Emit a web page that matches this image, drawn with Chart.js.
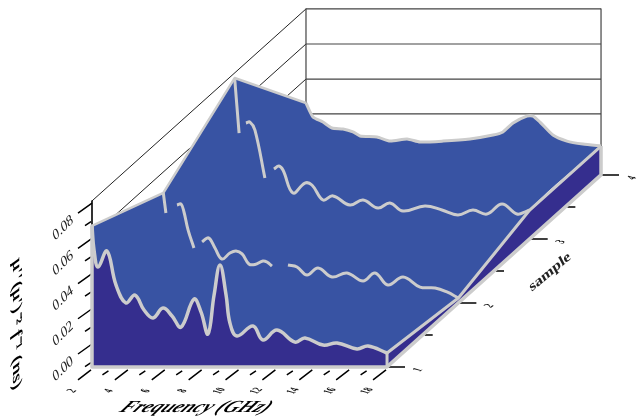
<!DOCTYPE html>
<html>
<head>
<meta charset="utf-8">
<title>Frequency surface</title>
<script src="https://cdn.jsdelivr.net/npm/chart.js@4/dist/chart.umd.min.js"></script>
<style>
  html, body { margin: 0; padding: 0; background: #fff; }
  canvas { display: block; }
</style>
</head>
<body>
<canvas id="chart" width="638" height="416"></canvas>
<script>
// data, null = the curve is hidden there
const freq1 = [2, 2.11, 2.33, 2.81, 3.30, 3.84, 4.33, 4.82, 5.31, 5.85, 6.34, 6.83, 7.53, 7.91, 8.29, 8.62, 8.94, 9.27, 9.48, 9.86, 10.73, 11.27, 12.03, 13.01, 13.55, 14.53, 15.29, 16.37, 16.97, 18];
const vals1 = [.0670, .0533, .0437, .0528, .0335, .0233, .0278, .0193, .0148, .0204, .0159, .0096, .0255, .0182, .0057, .0278, .0448, .0278, .0119, .0045, .0102, .0023, .0079, .0011, .0034, -.0006, .0006, -.0028, -.0011, -.0051];

const freq2 = [2, 2.14, 2.4, 2.74, 2.96, 3.12, 3.34, 3.66, 3.9, 4.10, 4.37, 4.53, 4.80, 5.18, 5.61, 5.94, 6.27, 6.64, 6.97, 7.40, 7.62, 7.89, 8.3, 8.76, 9.25, 9.79, 10.39, 11.15, 11.96, 12.83, 13.48, 14.18, 15.0, 15.92, 16.74, 17.38, 18];
const vals2 = [.0494, .0380, null, .0426, .0431, .0386, .0284, .0182, null, .0216, .0238, .0233, .0182, .0119, .0153, .0165, .0148, .0091, .0088, .0108, .0102, .0079, null, .0085, .0074, .0028, .0068, .0017, .0040, -.0006, .0040, -.0028, .0017, -.0040, -.0045, -.0068, -.0102];

const freq3 = [2, 2.24, 2.4, 2.61, 2.83, 3.10, 3.64, 3.9, 4.13, 4.40, 4.62, 5.16, 5.81, 6.19, 6.79, 7.33, 8.25, 8.96, 9.77, 10.42, 11.13, 12.32, 13.24, 14.11, 14.92, 15.68, 16.50, 17.31, 17.85, 18];
const vals3 = [.0783, .0471, null, .0528, .0533, .0488, .0216, null, .0267, .0284, .0261, .0131, .0187, .0176, .0091, .0114, .0062, .0091, .0045, .0074, .0028, .0057, .0034, .0006, .0034, .0011, .0068, .0011, .0028, .0034];

const freq4 = [2, 2.38, 2.92, 3.41, 4.01, 4.55, 4.93, 5.85, 6.56, 7.48, 8.18, 9.43, 10.89, 12.14, 12.68, 13.23, 13.98, 14.31, 14.69, 15.39, 16.15, 17.02, 18];
const vals4 = [.0278, .0199, .0170, .0136, .0131, .0114, .0091, .0085, .0062, .0074, .0057, .0062, .0074, .0096, .0114, .0165, .0204, .0204, .0170, .0096, .0062, .0045, .0034];

const freqTicks = [2, 4, 6, 8, 10, 12, 14, 16, 18];
const freqMinor = [3, 5, 7, 9, 11, 13, 15, 17];
const sampleTicks = [1, 2, 3, 4];
const sampleMinor = [1.5, 2.5, 3.5];
const valueTicks = [0, .02, .04, .06, .08];
const valueMinor = [-.01, .01, .03, .05, .07];
const wallLevels = [.0812, .0613, .0414, .0216];

const xTitle = 'Frequency (GHz)';
const yTitle = "\u03bc''(\u03bc')\u207b\u00b2 f\u207b\u00b9 (ns)";
const zTitle = 'sample';

// oblique projection, chart units are the same as page pixels
const FLOOR = -.013;
function px(f, s) { return 92 + (f - 2) * 18.44 + (s - 1) * 71.33; }
function py(s, z) { return 344 - (s - 1) * 64 - z * 1762; }
function pt(f, s, z) { return { x: px(f, s), y: py(s, z) }; }
function curve(fs, vs, s) {
    return fs.map((f, i) => vs[i] === null ? { x: px(f, s), y: null } : pt(f, s, vs[i]));
}
const GAP = { x: null, y: null };

const firsts = [vals1, vals2, vals3, vals4].map(v => v[0]);
const lasts = [vals1, vals2, vals3, vals4].map(v => v[v.length - 1]);
const leftEdge = firsts.map((z, i) => pt(2, i + 1, z));
const rightEdge = lasts.map((z, i) => pt(18, i + 1, z));

const curve1 = curve(freq1, vals1, 1);
const curve2 = curve(freq2, vals2, 2);
const curve3 = curve(freq3, vals3, 3);
const curve4 = curve(freq4, vals4, 4);

const GRAY = '#cccccc';
const BLUE = '#3853a3';
const DARK = '#352e8e';
const SMOOTH = 0.4;

const datasets = [];
function add(points, opts) {
    datasets.push(Object.assign({
        data: points, showLine: true, pointRadius: 0, spanGaps: false, fill: false,
        borderColor: '#000', borderWidth: 1, tension: 0,
        borderCapStyle: 'butt', borderJoinStyle: 'round'
    }, opts));
    return datasets.length - 1;
}
function shifted(p, dx, dy) { return { x: p.x + dx, y: p.y + dy }; }

// walls
const backGrid = [];
wallLevels.forEach(z => { backGrid.push(pt(2, 4, z), pt(18, 4, z), GAP); });
add(backGrid, { borderColor: '#444', borderWidth: 1.2 });
const sideGrid = [];
wallLevels.forEach(z => { sideGrid.push(pt(2, 1, z), pt(2, 4, z), GAP); });
add(sideGrid, { borderColor: '#222', borderWidth: 1 });
add([pt(2, 4, wallLevels[0]), pt(2, 4, firsts[3]), GAP, pt(18, 4, wallLevels[0]), pt(18, 4, lasts[3])], { borderColor: '#444', borderWidth: 1.2 });
add([pt(2, 1, wallLevels[0]), pt(2, 1, firsts[0])], { borderColor: '#000', borderWidth: 1.6 });

// axis ticks
const tickMajor = [];
valueTicks.forEach(z => { const p = pt(2, 1, z); tickMajor.push(p, shifted(p, -14, 10), GAP); });
freqTicks.forEach(f => { const p = shifted(pt(f, 1, FLOOR), -1, 3); tickMajor.push(p, shifted(p, -13, 10), GAP); });
sampleTicks.forEach(s => { const p = shifted(pt(18, s, FLOOR), 1, 0); tickMajor.push(p, shifted(p, 17, 0), GAP); });
add(tickMajor, { borderColor: '#000', borderWidth: 1.5 });
const tickMinor = [];
valueMinor.forEach(z => { const p = pt(2, 1, z); tickMinor.push(shifted(p, -1, 1), shifted(p, -7, 5), GAP); });
freqMinor.forEach(f => { const p = shifted(pt(f, 1, FLOOR), -2, 4); tickMinor.push(p, shifted(p, -6, 4), GAP); });
sampleMinor.forEach(s => { const p = shifted(pt(18, s, FLOOR), 2, 0); tickMinor.push(p, shifted(p, 8, 0), GAP); });
add(tickMinor, { borderColor: '#000', borderWidth: 1.5 });

// filled faces, x runs left to right on both borders so the filler can close them
const surfaceBottom = add(curve1.concat(rightEdge.slice(1)), { borderColor: 'transparent', borderWidth: 0, tension: SMOOTH });
add(leftEdge.concat(curve4.slice(1)), { borderColor: 'transparent', borderWidth: 0, fill: surfaceBottom, backgroundColor: BLUE });

const sideFloor = add([pt(18, 1, FLOOR), pt(18, 4, FLOOR)], { borderColor: 'transparent', borderWidth: 0 });
add(rightEdge, { borderColor: 'transparent', borderWidth: 0, fill: sideFloor, backgroundColor: DARK });

const frontFloor = add([pt(2, 1, FLOOR), pt(18, 1, FLOOR)], { borderColor: 'transparent', borderWidth: 0 });
add(curve1, { borderColor: 'transparent', borderWidth: 0, tension: SMOOTH, fill: frontFloor, backgroundColor: DARK });

// surface lines and frame
add(leftEdge, { borderColor: GRAY, borderWidth: 2.5 });
add(curve4, { borderColor: GRAY, borderWidth: 3, tension: 0.2 });
add(curve3, { borderColor: GRAY, borderWidth: 3, tension: SMOOTH });
add(curve2, { borderColor: GRAY, borderWidth: 3, tension: SMOOTH });
add(rightEdge, { borderColor: GRAY, borderWidth: 3 });
add(curve1, { borderColor: GRAY, borderWidth: 3.5, tension: SMOOTH });
add([pt(2, 1, firsts[0]), pt(2, 1, FLOOR), pt(18, 1, FLOOR), pt(18, 4, FLOOR), pt(18, 4, lasts[3])], { borderColor: GRAY, borderWidth: 3.5 });
add([pt(18, 1, FLOOR), pt(18, 1, lasts[0])], { borderColor: GRAY, borderWidth: 3 });

datasets.forEach((d, i) => { d.order = datasets.length - i; });

// texts lie in the planes of the box, so they are sheared instead of just rotated
function shearText(ctx, text, x, y, m, font, color) {
    ctx.save();
    ctx.transform(m[0], m[1], m[2], m[3], x, y);
    ctx.font = font;
    ctx.fillStyle = color || '#000';
    ctx.textAlign = 'center';
    ctx.textBaseline = 'middle';
    ctx.fillText(text, 0, 0);
    ctx.restore();
}

const axisTexts = {
    id: 'axisTexts',
    afterDatasetsDraw(chart) {
        const ctx = chart.ctx;
        const X = chart.scales.x, Y = chart.scales.y;
        const serif = '"Liberation Serif", serif';
        valueTicks.forEach(z => {
            shearText(ctx, z.toFixed(2), X.getPixelForValue(px(2, 1) - 29), Y.getPixelForValue(py(1, z) + 25),
                [.72, -.72, .45, .75], 'italic 15px ' + serif, '#222');
        });
        freqTicks.forEach(f => {
            shearText(ctx, String(f), X.getPixelForValue(px(f, 1) - 20), Y.getPixelForValue(py(1, FLOOR) + 24),
                [.55, -.42, 1, .28], 'bold 12px ' + serif, '#111');
        });
        sampleTicks.forEach(s => {
            shearText(ctx, String(s), X.getPixelForValue(px(18, s) + 31), Y.getPixelForValue(py(s, FLOOR) + 3),
                [.55, -.42, 1, .28], 'bold 12px ' + serif, '#111');
        });
        shearText(ctx, xTitle, X.getPixelForValue(196), Y.getPixelForValue(408),
            [1.2, 0, -.85, 1], 'italic bold 17px ' + serif);
        shearText(ctx, yTitle, X.getPixelForValue(17), Y.getPixelForValue(324),
            [0, 1.3, -.85, .85], 'italic bold 16px ' + serif);
        shearText(ctx, zTitle, X.getPixelForValue(550), Y.getPixelForValue(272),
            [.88, -.74, .42, .8], 'bold 15px ' + serif, '#222');
    }
};

new Chart(document.getElementById('chart'), {
    type: 'scatter',
    data: { datasets: datasets },
    options: {
        responsive: false,
        animation: false,
        events: [],
        layout: { padding: 0 },
        plugins: { legend: { display: false }, tooltip: { enabled: false } },
        scales: {
            x: { type: 'linear', min: 0, max: 638, display: false },
            y: { type: 'linear', min: 0, max: 416, reverse: true, display: false }
        }
    },
    plugins: [axisTexts]
});
</script>
</body>
</html>
